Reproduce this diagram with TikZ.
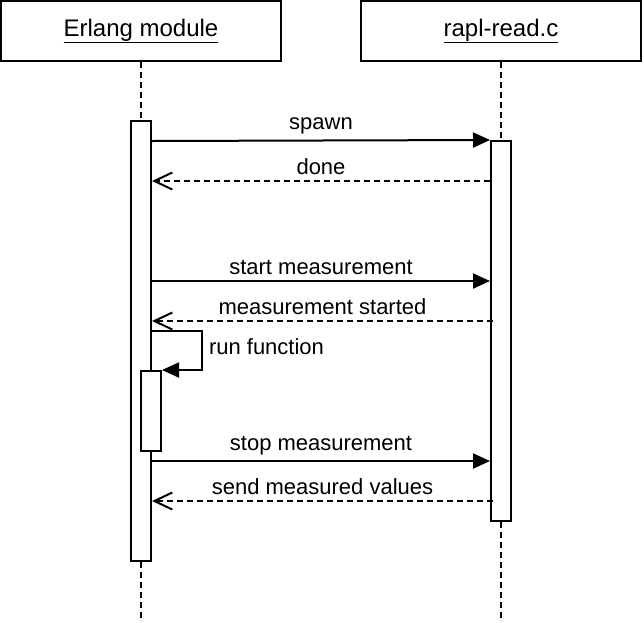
\documentclass[tikz,border=0pt]{standalone}
\usepackage{fontspec}
\setmainfont{Liberation Sans}
\usetikzlibrary{arrows.meta}

\begin{document}
\begin{tikzpicture}[x=1pt, y=-1pt, line width=2pt,
    box/.style={draw, rectangle, minimum width=280pt, minimum height=60pt, inner sep=0pt, font=\fontsize{24}{28}\selectfont},
    bar/.style={draw, rectangle, fill=white, minimum width=20pt, inner sep=0pt},
    life/.style={dash pattern=on 6pt off 4pt},
    call/.style={-{Triangle[length=17pt,width=15pt]}},
    reply/.style={dash pattern=on 6pt off 4pt, -{Straight Barb[length=18pt,width=17pt]}},
    lbl/.style={font=\fontsize{22}{26}\selectfont, inner sep=0pt}]
    \useasboundingbox (0,0) rectangle (644,622);

    \node[box] (erl) at (141,31) {\underline{Erlang module}};
    \node[box] (rapl) at (501,31) {\underline{rapl-read.c}};

    \coordinate (erlend) at (141,620);
    \coordinate (raplend) at (501,620);
    \draw[life] (erl) -- (erlend);
    \draw[life] (rapl) -- (raplend);

    \node[bar, minimum height=440pt] (erlact) at (141,341) {};
    \node[bar, minimum height=80pt] (run) at (151,411) {};
    \node[bar, minimum height=380pt] (raplact) at (501,331) {};

    \draw[call] (erlact.east |- 0,141) -- (raplact.north west) node[lbl, midway, above=5pt] {spawn};
    \draw[reply] (raplact.west |- 0,181) -- (erlact.east |- 0,181) node[lbl, midway, above=5pt] {done};

    \draw[call] (erlact.east |- 0,281) -- (raplact.west |- 0,281) node[lbl, midway, above=5pt] {start measurement};
    \draw[reply] (493,321) -- (erlact.east |- 0,321) node[lbl, midway, above=5pt] {measurement started};

    \draw[call] (erlact.east |- 0,331) -- ++(50,0) |- (run.north east);
    \node[lbl, anchor=west] (runlbl) at (208,347) {run function};

    \draw[call] (erlact.east |- 0,461) -- (raplact.west |- 0,461) node[lbl, midway, above=5pt] {stop measurement};
    \draw[reply] (493,501) -- (erlact.east |- 0,501) node[lbl, midway, above=5pt] {send measured values};

  \end{tikzpicture}
\end{document}
